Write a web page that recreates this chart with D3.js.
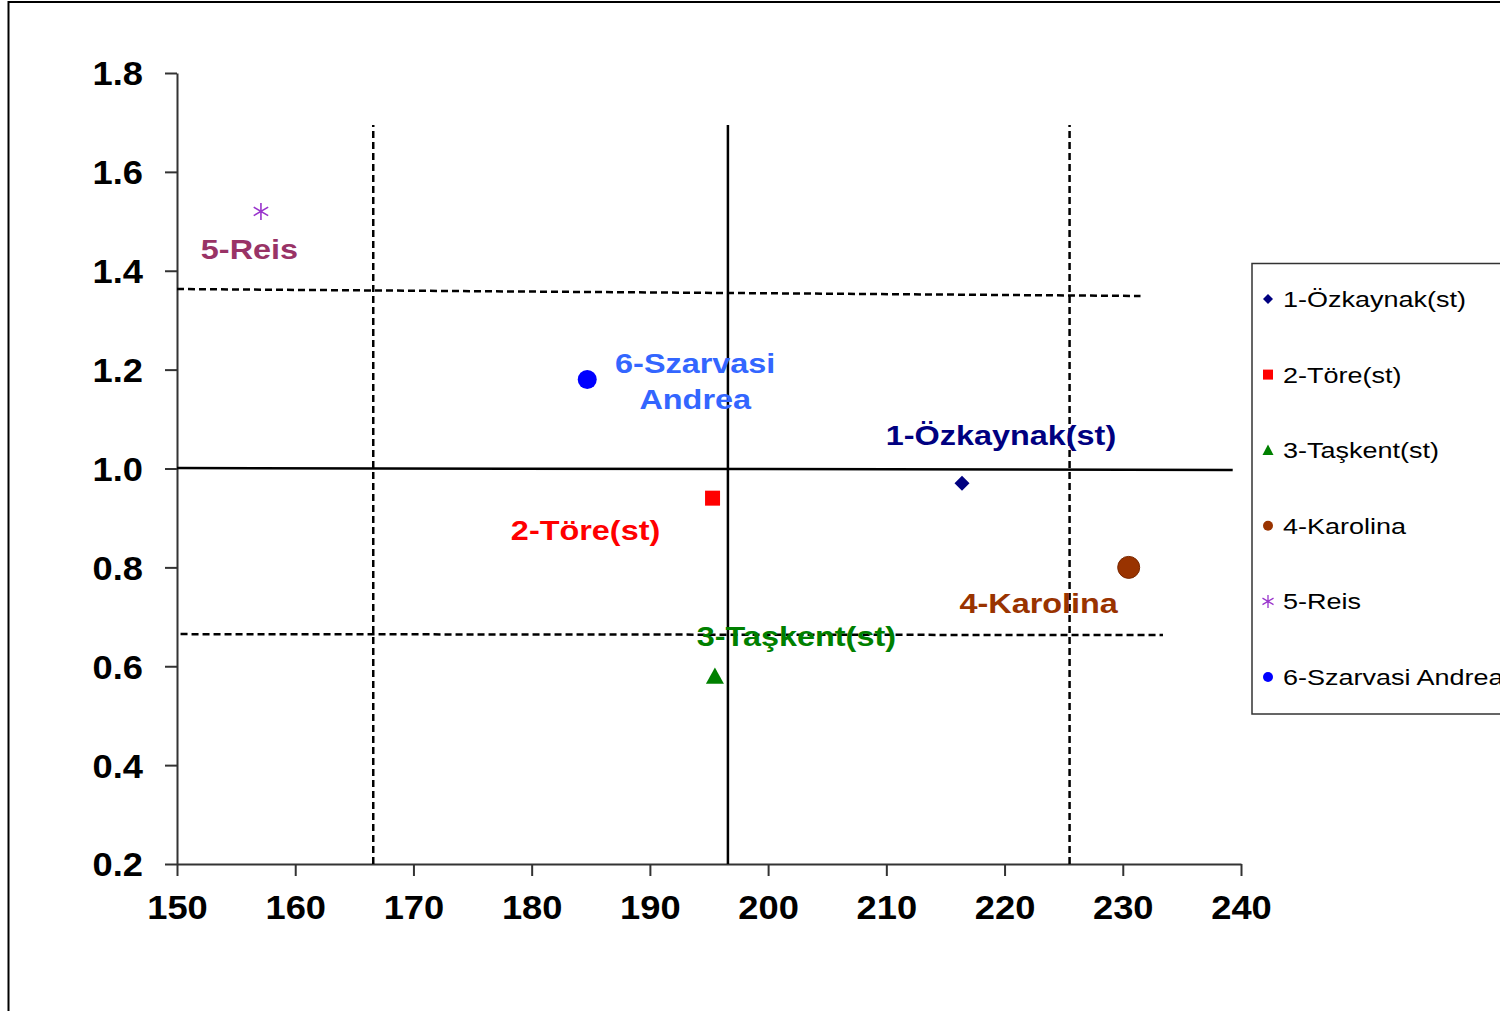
<!DOCTYPE html>
<html>
<head>
<meta charset="utf-8">
<script src="https://cdn.jsdelivr.net/npm/d3@7/dist/d3.min.js"></script>
<style>
  html, body { margin: 0; padding: 0; background: #fff; }
  svg { display: block; }
  text { font-family: "Liberation Sans", Arial, sans-serif; }
</style>
</head>
<body>
<svg id="chart" width="1500" height="1011"></svg>
<script>
// ---------------- DATA ----------------
const names   = ["1-Özkaynak(st)", "2-Töre(st)", "3-Taşkent(st)", "4-Karolina", "5-Reis", "6-Szarvasi Andrea"];
const labelLines = [["1-Özkaynak(st)"], ["2-Töre(st)"], ["3-Taşkent(st)"], ["4-Karolina"], ["5-Reis"], ["6-Szarvasi", "Andrea"]];
const xValues = [216.4, 195.3, 195.5, 230.5, 157.1, 184.7];
const yValues = [0.97, 0.94, 0.58, 0.80, 1.52, 1.18];

const xTicks = [150, 160, 170, 180, 190, 200, 210, 220, 230, 240];
const yTicks = [0.2, 0.4, 0.6, 0.8, 1.0, 1.2, 1.4, 1.6, 1.8];

// reference lines (x1, y1, x2, y2) in data units
const solidLinesX  = [[196.6, 0.2, 196.6, 1.695], [150, 1.001, 239.3, 0.997]];
const dashedLines  = [[166.6, 0.2, 166.6, 1.695], [225.5, 0.2, 225.5, 1.695],
                      [150, 1.363, 231.5, 1.349], [150.3, 0.665, 233.4, 0.663]];

// ---------------- STYLE ----------------
const colors  = ["#000080", "#FF0000", "#008000", "#993300", "#9933CC", "#0000FF"];
const labelColors = ["#000080", "#FF0000", "#008000", "#993300", "#993366", "#3366FF"];
const shapes  = ["diamond", "square", "triangle", "circle", "star", "circle"];
const markerSizes = [15, 15, 18, 22, 17, 19];
const legendMarkerSizes = [10, 10, 11, 10, 13, 10];
const labelOffsets = [[39, -38], [-127, 42], [81.5, -30], [-90, 46], [-11.5, 48], [108, -7]];
const SX = 1.2;  // horizontal text stretch
const TSX = 1.1; // tick label stretch

const svg = d3.select("#chart");

// frame
svg.append("rect").attr("x", 8.5).attr("y", 2).attr("width", 1600).attr("height", 1100)
  .attr("fill", "none").attr("stroke", "#000").attr("stroke-width", 2);

const x = d3.scaleLinear().domain([150, 240]).range([177, 1241]);
const y = d3.scaleLinear().domain([0.2, 1.8]).range([864, 73]);

function shapePath(shape, s) {
  const h = s / 2;
  if (shape === "diamond") return `M0,${-h}L${h},0L0,${h}L${-h},0Z`;
  if (shape === "square") return `M${-h},${-h}H${h}V${h}H${-h}Z`;
  if (shape === "triangle") { const th = s * 0.85; return `M0,${-th/2 - 1}L${h},${th/2}L${-h},${th/2}Z`; }
  if (shape === "circle") return `M${h},0A${h},${h} 0 1,1 ${-h},0A${h},${h} 0 1,1 ${h},0Z`;
  if (shape === "star") {
    const a = h * 0.85, b = h * 0.5;
    return `M0,${-h}V${h}M${-a},${-b}L${a},${b}M${-a},${b}L${a},${-b}`;
  }
}

// axes
const axisColor = "#333";
const gx = svg.append("g").attr("transform", `translate(0,${y(0.2)})`)
  .call(d3.axisBottom(x).tickValues(xTicks).tickSize(12).tickSizeOuter(0).tickFormat(d3.format("d")));
const gy = svg.append("g").attr("transform", `translate(${x(150)},0)`)
  .call(d3.axisLeft(y).tickValues(yTicks).tickSize(12).tickSizeOuter(0).tickFormat(d3.format(".1f")));
[gx, gy].forEach(g => {
  g.select(".domain").attr("stroke", axisColor).attr("stroke-width", 2);
  g.selectAll(".tick line").attr("stroke", axisColor).attr("stroke-width", 2);
  g.selectAll(".tick text").attr("fill", "#000").attr("font-size", 33).attr("font-weight", "bold")
    .attr("font-family", "'Liberation Sans', Arial, sans-serif");
});
gx.selectAll(".tick text").attr("y", 0).attr("dy", 55).attr("transform", `scale(${TSX},1)`);
gy.selectAll(".tick text").attr("x", -34 / TSX).attr("dy", "0.36em").attr("transform", `scale(${TSX},1)`);

// reference lines
svg.append("g").selectAll("line").data(solidLinesX).join("line")
  .attr("x1", d => x(d[0])).attr("y1", d => y(d[1])).attr("x2", d => x(d[2])).attr("y2", d => y(d[3]))
  .attr("stroke", "#000").attr("stroke-width", 2.5);
svg.append("g").selectAll("line").data(dashedLines).join("line")
  .attr("x1", d => x(d[0])).attr("y1", d => y(d[1])).attr("x2", d => x(d[2])).attr("y2", d => y(d[3]))
  .attr("stroke", "#000").attr("stroke-width", 2.5).attr("stroke-dasharray", "7,4");

// data points
const pts = names.map((n, i) => ({ n, i, x: xValues[i], y: yValues[i] }));
svg.append("g").selectAll("path").data(pts).join("path")
  .attr("transform", d => `translate(${x(d.x)},${y(d.y)})`)
  .attr("d", d => shapePath(shapes[d.i], markerSizes[d.i]))
  .attr("fill", d => shapes[d.i] === "star" ? "none" : colors[d.i])
  .attr("stroke", d => shapes[d.i] === "star" ? colors[d.i] : (d.i === 3 ? "#7a2800" : "none"))
  .attr("stroke-width", d => shapes[d.i] === "star" ? 1.6 : 1);

// data labels
pts.forEach(d => {
  const px = x(d.x) + labelOffsets[d.i][0];
  const py = y(d.y) + labelOffsets[d.i][1];
  labelLines[d.i].forEach((line, k) => {
    svg.append("text")
      .attr("transform", `translate(${px},${py + k * 36}) scale(${SX},1)`)
      .attr("text-anchor", "middle")
      .attr("font-size", 27).attr("font-weight", "bold")
      .attr("fill", labelColors[d.i])
      .text(line);
  });
});

// legend
const lg = svg.append("g");
lg.append("rect").attr("x", 1252).attr("y", 263.5).attr("width", 400).attr("height", 450.5)
  .attr("fill", "#fff").attr("stroke", "#333").attr("stroke-width", 1.5);
names.forEach((n, i) => {
  const cy = 299 + i * 75.6;
  lg.append("path").attr("transform", `translate(1268,${cy})`)
    .attr("d", shapePath(shapes[i], legendMarkerSizes[i]))
    .attr("fill", shapes[i] === "star" ? "none" : colors[i])
    .attr("stroke", shapes[i] === "star" ? colors[i] : "none")
    .attr("stroke-width", 1.3);
  lg.append("text").attr("transform", `translate(1283,${cy + 8}) scale(1.2,1)`)
    .attr("font-size", 22.5).attr("fill", "#000").text(n);
});
</script>
</body>
</html>
